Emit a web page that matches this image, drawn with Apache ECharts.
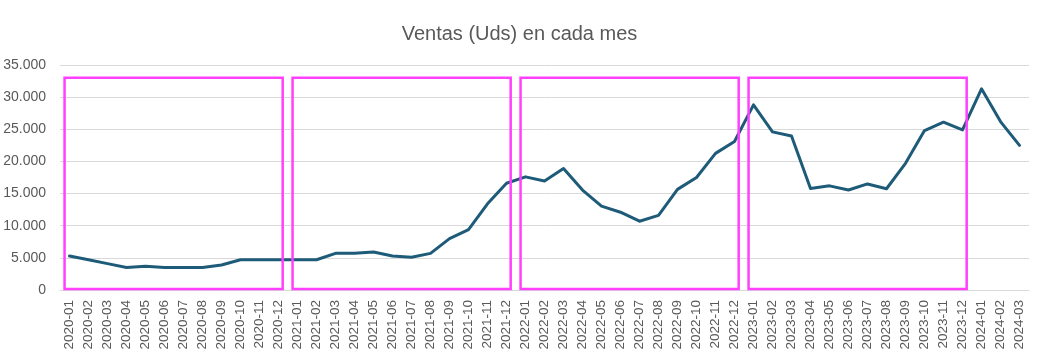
<!DOCTYPE html>
<html>
<head>
<meta charset="utf-8">
<script src="https://cdn.jsdelivr.net/npm/echarts@6/dist/echarts.min.js"></script>
<style>
html,body{margin:0;padding:0;background:#fff;}
#chart{width:1039px;height:363px;}
</style>
</head>
<body>
<div id="chart"></div>
<script>
var titleText = 'Ventas (Uds) en cada mes';
var categories = [
  '2020-01','2020-02','2020-03','2020-04','2020-05','2020-06','2020-07','2020-08','2020-09','2020-10','2020-11','2020-12',
  '2021-01','2021-02','2021-03','2021-04','2021-05','2021-06','2021-07','2021-08','2021-09','2021-10','2021-11','2021-12',
  '2022-01','2022-02','2022-03','2022-04','2022-05','2022-06','2022-07','2022-08','2022-09','2022-10','2022-11','2022-12',
  '2023-01','2023-02','2023-03','2023-04','2023-05','2023-06','2023-07','2023-08','2023-09','2023-10','2023-11','2023-12',
  '2024-01','2024-02','2024-03'
];
var ventas = [
  5300, 4700, 4100, 3500, 3700, 3500, 3500, 3500, 3900, 4700, 4700, 4700,
  4700, 4700, 5700, 5700, 5900, 5300, 5100, 5700, 8000, 9400, 13400, 16600,
  17600, 16950, 18900, 15550, 13050, 12100, 10700, 11600, 15650, 17500, 21250, 23100,
  28800, 24600, 23950, 15800, 16200, 15550, 16500, 15750, 19700, 24800, 26100, 24900,
  31300, 26200, 22500
];
var yTicks = [0, 5000, 10000, 15000, 20000, 25000, 30000, 35000];
var boxYears = ['2020', '2021', '2022', '2023'];
var boxTopValue = 33000;

var boxData = boxYears.map(function (yr) {
  var idx = categories.map(function (c, i) { return c.indexOf(yr) === 0 ? i : -1; }).filter(function (i) { return i >= 0; });
  return [idx[0], boxTopValue, idx[idx.length - 1]];
});

var chart = echarts.init(document.getElementById('chart'), null, {renderer: 'canvas'});
chart.setOption({
  animation: false,
  backgroundColor: '#ffffff',
  title: {
    text: titleText,
    left: 'center',
    top: 19,
    textStyle: {fontFamily: 'Liberation Sans', fontSize: 20, fontWeight: 'normal', color: '#595959'}
  },
  grid: {left: 60, right: 10, top: 65, bottom: 73, containLabel: false},
  xAxis: {
    type: 'category',
    data: categories,
    boundaryGap: true,
    axisLine: {show: true, lineStyle: {color: '#d9d9d9', width: 1}},
    axisTick: {show: false},
    axisLabel: {
      interval: 0, rotate: 90, margin: 10,
      fontFamily: 'Liberation Sans', fontSize: 13.5, color: '#595959'
    },
    splitLine: {show: false}
  },
  yAxis: {
    type: 'value',
    min: yTicks[0],
    max: yTicks[yTicks.length - 1],
    interval: yTicks[1] - yTicks[0],
    axisLine: {show: false},
    axisTick: {show: false},
    axisLabel: {
      margin: 14,
      fontFamily: 'Liberation Sans', fontSize: 14, color: '#595959',
      formatter: function (v) { return v.toString().replace(/\B(?=(\d{3})+(?!\d))/g, '.'); }
    },
    splitLine: {show: true, lineStyle: {color: '#d9d9d9', width: 1}}
  },
  series: [
    {
      name: 'Ventas',
      type: 'line',
      data: ventas,
      symbol: 'none',
      lineStyle: {color: '#1d5b78', width: 3, join: 'round', cap: 'round'},
      z: 2
    },
    {
      type: 'custom',
      data: boxData,
      encode: {x: 0, y: 1},
      z: 3,
      silent: true,
      renderItem: function (params, api) {
        var s = api.value(0), e = api.value(2), top = api.value(1);
        var bw = api.size([1, 0])[0];
        var p0 = api.coord([s, top]);
        var p1 = api.coord([e, 0]);
        var x0 = p0[0] - bw * 0.26;
        var x1 = p1[0] + bw * 0.22;
        return {
          type: 'rect',
          shape: {x: x0, y: p0[1], width: x1 - x0, height: p1[1] - 1 - p0[1]},
          style: {fill: 'none', stroke: '#ff40ff', lineWidth: 2.5}
        };
      }
    }
  ]
});
</script>
</body>
</html>
